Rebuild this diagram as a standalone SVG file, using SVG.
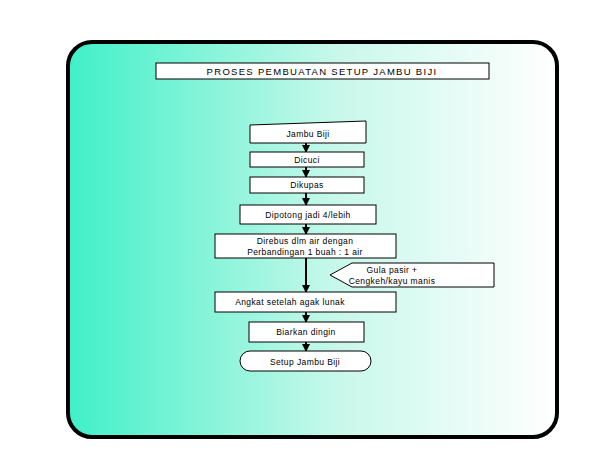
<svg xmlns="http://www.w3.org/2000/svg" width="612" height="468" viewBox="0 0 612 468">
<defs>
<linearGradient id="g" x1="0" y1="0" x2="1" y2="0">
<stop offset="0" stop-color="#3ff0c8"/>
<stop offset="0.55" stop-color="#c8f8ea"/>
<stop offset="1" stop-color="#ffffff"/>
</linearGradient>
<marker id="a" markerWidth="8" markerHeight="8" refX="7" refY="4" orient="auto" markerUnits="userSpaceOnUse">
<path d="M0,0 L8,4 L0,8 Z" fill="#000"/>
</marker>
<style>
.n{fill:#fff;stroke:#000;stroke-width:1}
.t{font-family:"Liberation Sans",sans-serif;font-size:8.5px;text-anchor:middle;fill:#000;letter-spacing:0.4px}
.c{stroke:#000;stroke-width:2;fill:none;marker-end:url(#a)}
</style>
</defs>
<rect width="612" height="468" fill="#fff"/>
<rect x="68" y="42" width="489" height="395" rx="24" fill="url(#g)" stroke="#000" stroke-width="4"/>
<g id="title"><rect class="n" x="156" y="63" width="333" height="16"/><text class="t" x="322" y="74.5" style="font-size:9.5px;letter-spacing:1.3px">PROSES PEMBUATAN SETUP JAMBU BIJI</text></g>
<g id="connectors">
<line class="c" x1="306" y1="143" x2="306" y2="152"/>
<line class="c" x1="306" y1="167" x2="306" y2="177"/>
<line class="c" x1="306" y1="193" x2="306" y2="205"/>
<line class="c" x1="306" y1="224" x2="306" y2="234"/>
<line class="c" x1="306" y1="258" x2="306" y2="292"/>
<line class="c" x1="306" y1="312" x2="306" y2="322"/>
<line class="c" x1="306" y1="342" x2="306" y2="351"/>
</g>
<g id="n1"><path class="n" d="M250,125 L366,121 L366,143 L250,143 Z"/><text class="t" x="308" y="137">Jambu Biji</text></g>
<g id="n2"><rect class="n" x="250" y="152" width="114" height="15"/><text class="t" x="307" y="163">Dicuci</text></g>
<g id="n3"><rect class="n" x="250" y="177" width="114" height="16"/><text class="t" x="307" y="188">Dikupas</text></g>
<g id="n4"><rect class="n" x="240" y="205" width="136" height="19"/><text class="t" x="308" y="217.5">Dipotong jadi 4/lebih</text></g>
<g id="n5"><rect class="n" x="215" y="234" width="181" height="24"/><text class="t" x="305" y="244">Direbus dlm air dengan</text><text class="t" x="305" y="255">Perbandingan 1 buah : 1 air</text></g>
<g id="n6"><path class="n" d="M330,275 L352,263 L494,263 L494,287 L352,287 Z"/><text class="t" x="392" y="273">Gula pasir +</text><text class="t" x="392" y="284">Cengkeh/kayu manis</text></g>
<g id="n7"><rect class="n" x="215" y="292" width="181" height="20"/><text class="t" x="290" y="305">Angkat setelah agak lunak</text></g>
<g id="n8"><rect class="n" x="249" y="322" width="115" height="20"/><text class="t" x="306" y="335">Biarkan dingin</text></g>
<g id="n9"><rect class="n" x="240" y="351" width="131" height="20" rx="10" ry="10"/><text class="t" x="305" y="364.5">Setup Jambu Biji</text></g>
</svg>
